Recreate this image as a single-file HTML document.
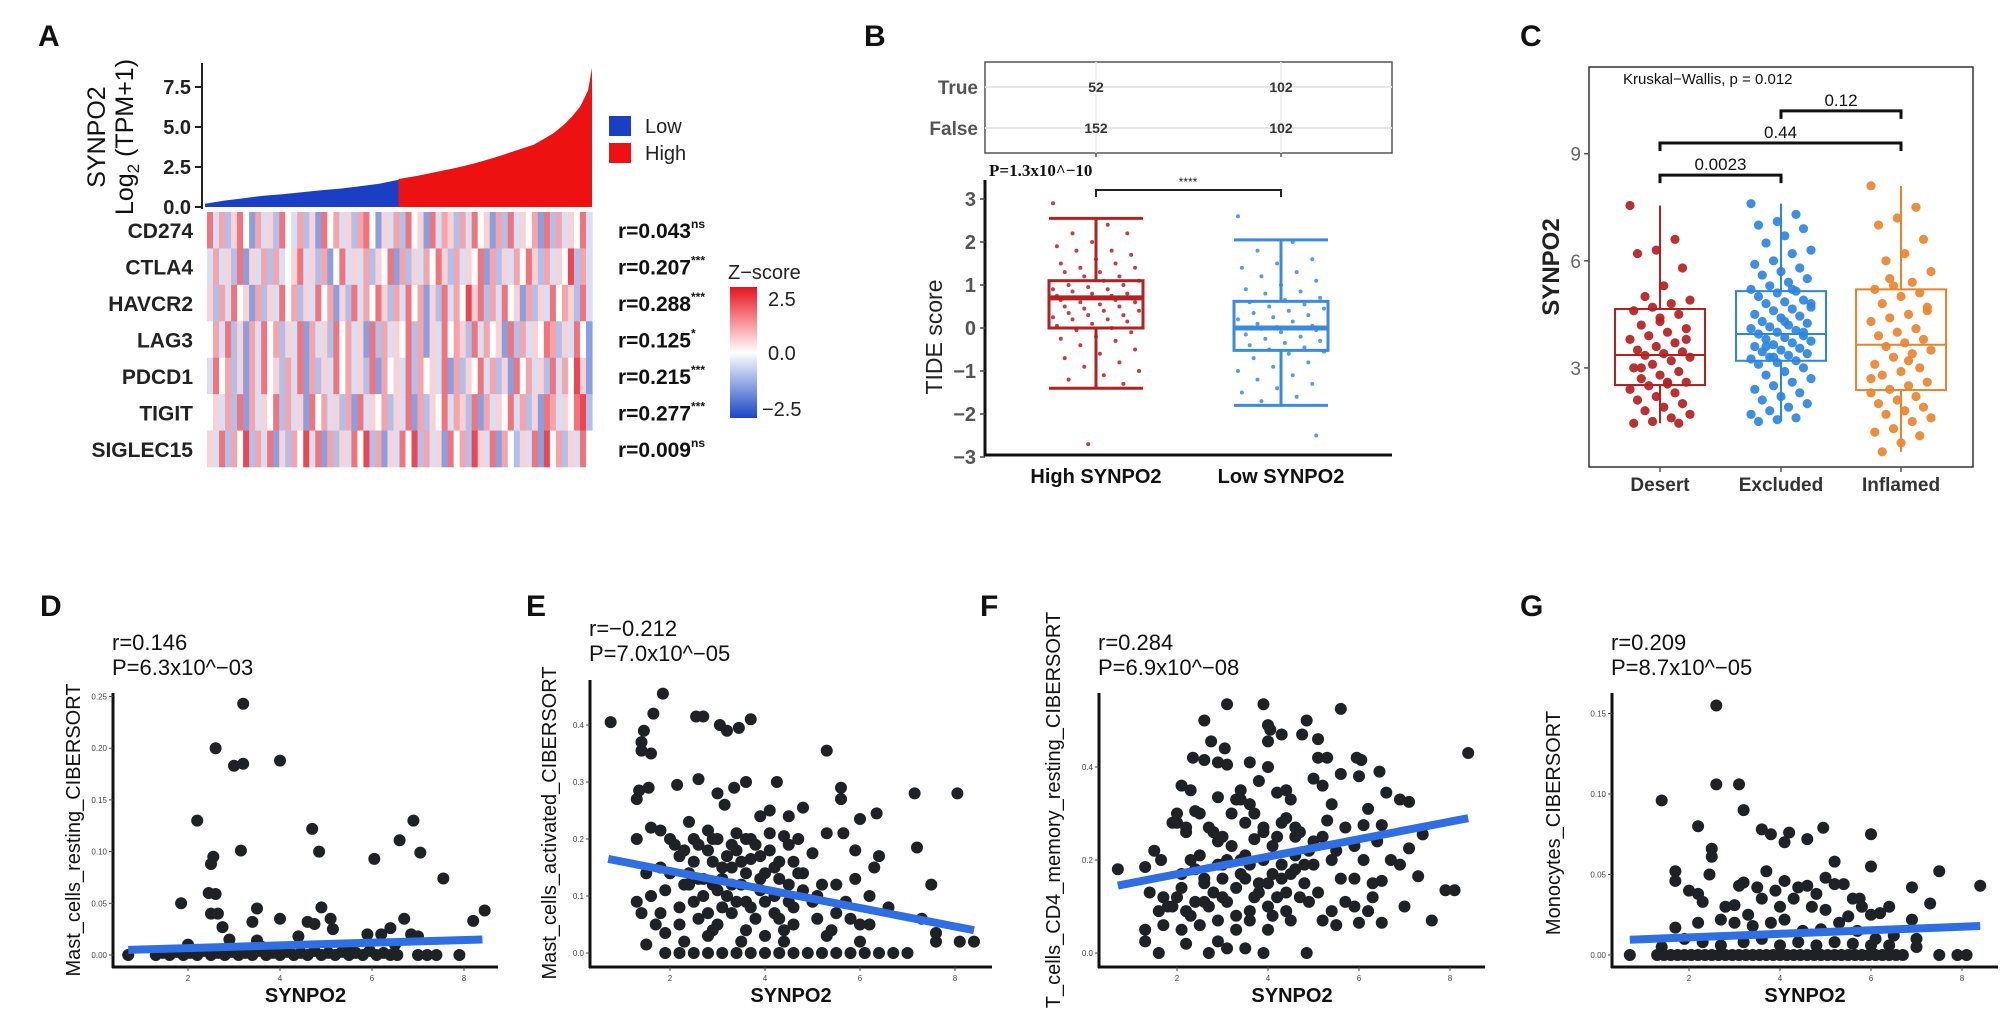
<!DOCTYPE html>
<html><head><meta charset="utf-8"><style>
html,body{margin:0;padding:0;background:#fff}
svg{display:block;font-family:"Liberation Sans",Arial,sans-serif}
</style></head><body>
<svg id="fig" width="2008" height="1035" viewBox="0 0 2008 1035" xmlns="http://www.w3.org/2000/svg">
<rect width="2008" height="1035" fill="#fff"/>
<g font-weight="bold" font-size="30" fill="#111">
<text x="38" y="46">A</text>
<text x="864" y="46">B</text>
<text x="1520" y="46">C</text>
<text x="40" y="616">D</text>
<text x="526" y="616">E</text>
<text x="980" y="616">F</text>
<text x="1520" y="616">G</text>
</g>
<g id="panelA">
<text transform="translate(105,137) rotate(-90)" text-anchor="middle" font-size="25" fill="#111">SYNPO2</text>
<text transform="translate(133,137) rotate(-90)" text-anchor="middle" font-size="25" fill="#111">Log<tspan font-size="17" dy="6">2</tspan><tspan dy="-6"> (TPM+1)</tspan></text>
<rect x="609" y="116" width="22" height="20" fill="#1a3fc4"/>
<rect x="609" y="143" width="22" height="20" fill="#ee1111"/>
<text x="645" y="133" font-size="20" fill="#222">Low</text>
<text x="645" y="160" font-size="20" fill="#222">High</text>
<text x="728" y="279" font-size="20" fill="#222">Z−score</text>
<defs><linearGradient id="zg" x1="0" y1="0" x2="0" y2="1">
<stop offset="0" stop-color="#e8141e"/><stop offset="0.5" stop-color="#ffffff"/><stop offset="1" stop-color="#1a46c8"/></linearGradient></defs>
<rect x="730" y="287" width="27" height="131" fill="url(#zg)"/>
<text x="768" y="306" font-size="20" fill="#222">2.5</text>
<text x="768" y="360" font-size="20" fill="#222">0.0</text>
<text x="762" y="416" font-size="20" fill="#222">−2.5</text>
</g>
<g>
<rect x="985" y="62" width="407" height="91" fill="#fff" stroke="#555" stroke-width="1.5"/>
<line x1="985" y1="87" x2="1392" y2="87" stroke="#e6e6e6" stroke-width="2"/>
<line x1="985" y1="128" x2="1392" y2="128" stroke="#e6e6e6" stroke-width="2"/>
<line x1="1096" y1="62" x2="1096" y2="153" stroke="#ececec" stroke-width="1.5"/>
<line x1="1281" y1="62" x2="1281" y2="153" stroke="#ececec" stroke-width="1.5"/>
<text x="978" y="94" text-anchor="end" font-size="19" font-weight="bold" fill="#555">True</text>
<text x="978" y="135" text-anchor="end" font-size="19" font-weight="bold" fill="#555">False</text>
<g font-size="14" font-weight="bold" fill="#333" text-anchor="middle">
<text x="1096" y="92">52</text>
<text x="1281" y="92">102</text>
<text x="1096" y="133">152</text>
<text x="1281" y="133">102</text>
</g>
<line x1="1096" y1="153" x2="1096" y2="157" stroke="#555" stroke-width="1.5"/>
<line x1="1281" y1="153" x2="1281" y2="157" stroke="#555" stroke-width="1.5"/>
<text x="989" y="176" font-family="Liberation Serif, serif" font-size="17" font-weight="bold" fill="#111">P=1.3x10^−10</text>
<text transform="translate(942,337) rotate(-90)" text-anchor="middle" font-size="23" fill="#222">TIDE score</text>
<text x="1096" y="483" text-anchor="middle" font-size="20" font-weight="bold" fill="#111">High SYNPO2</text>
<text x="1281" y="483" text-anchor="middle" font-size="20" font-weight="bold" fill="#111">Low SYNPO2</text>
<path d="M1096,197 V190 H1281 V197" fill="none" stroke="#222" stroke-width="2"/>
<text x="1188" y="186" text-anchor="middle" font-size="12" fill="#222">****</text>
</g>
<g>
<rect x="1589" y="67" width="384" height="400" fill="none" stroke="#333" stroke-width="1.5"/>
<text x="1623" y="84" font-size="15" fill="#111">Kruskal−Wallis, p = 0.012</text>
<text transform="translate(1559,267) rotate(-90)" text-anchor="middle" font-size="24" font-weight="bold" fill="#222">SYNPO2</text>
</g>
<g id="dyn"></g>
</svg>
<script>
// ---------- Panel A data ----------
const barQuantiles = [0,0.05,0.1,0.15,0.2,0.25,0.3,0.35,0.4,0.45,0.5,0.5001,0.55,0.6,0.65,0.7,0.75,0.8,0.85,0.9,0.93,0.95,0.97,0.98,0.99,1.0];
const barValues    = [0.2,0.4,0.55,0.7,0.8,0.92,1.05,1.15,1.3,1.45,1.7,1.75,1.95,2.2,2.45,2.75,3.1,3.5,3.9,4.6,5.2,5.7,6.3,6.8,7.3,8.7];
const barSplit = 0.5;
const yTicksA = [0,2.5,5,7.5];
const genes = ["CD274","CTLA4","HAVCR2","LAG3","PDCD1","TIGIT","SIGLEC15"];
const corrLabels = ["r=0.043","r=0.207","r=0.288","r=0.125","r=0.215","r=0.277","r=0.009"];
const corrStars = ["ns","***","***","*","***","***","ns"];
const heatRows = [
"7362574163527436251746352674153627451736526374516273546172635473",
"3635271536263457352614735362547162536475263547162536475263548263",
"5263745162537462537461527364752637461527364857263745162537465273",
"4637251637462537163527463517263547261537465273645172635476253741",
"3746251637452637162537463527164537264537162547362517463527364851",
"4536271635472635174635261735462537162547365271635473625176354782",
"5372648263715264837162537482615374826351746285371642537184625374"];
// ---------- Panel B data ----------
const tideHigh = [2.9,2.4,2.2,2.2,2.0,1.9,1.8,1.8,1.7,1.6,1.5,1.5,1.4,1.4,1.3,1.3,1.2,1.2,1.1,1.1,1.0,1.0,0.95,0.9,0.9,0.85,0.8,0.8,0.75,0.75,0.7,0.7,0.7,0.65,0.65,0.6,0.6,0.55,0.5,0.5,0.45,0.4,0.4,0.35,0.3,0.3,0.25,0.2,0.2,0.15,0.1,0.05,0.0,-0.05,-0.1,-0.2,-0.25,-0.3,-0.4,-0.5,-0.6,-0.7,-0.8,-0.9,-1.0,-1.1,-1.2,-1.3,-2.7];
const tideLow = [2.6,2.0,1.8,1.6,1.5,1.4,1.3,1.2,1.1,1.0,0.9,0.85,0.8,0.7,0.65,0.6,0.55,0.5,0.45,0.4,0.35,0.3,0.25,0.2,0.15,0.1,0.05,0.02,0.0,0.0,-0.02,-0.05,-0.1,-0.15,-0.2,-0.25,-0.3,-0.35,-0.4,-0.45,-0.5,-0.55,-0.6,-0.7,-0.8,-0.9,-1.0,-1.1,-1.2,-1.3,-1.4,-1.5,-1.6,-1.7,-2.5];
const tideBoxHigh = [-1.4,0.0,0.7,1.1,2.55];
const tideBoxLow  = [-1.8,-0.52,0.0,0.62,2.05];
const yTicksB = [-3,-2,-1,0,1,2,3];
// ---------- Panel C data ----------
const cGroups = ["Desert","Excluded","Inflamed"];
const cDesert = [7.55,6.6,6.3,6.2,5.8,5.3,5.0,4.9,4.8,4.7,4.6,4.5,4.3,4.2,4.1,4.0,3.9,3.8,3.7,3.6,3.5,3.45,3.4,3.35,3.3,3.2,3.1,3.0,2.9,2.8,2.7,2.6,2.55,2.5,2.4,2.3,2.2,2.1,2.0,1.9,1.8,1.7,1.6,1.5,1.45,1.45,4.4,3.0,3.8,2.6];
const cExcluded = [7.6,7.3,7.1,7.0,6.9,6.7,6.5,6.3,6.2,6.0,5.9,5.8,5.7,5.6,5.5,5.4,5.3,5.2,5.15,5.1,5.0,4.9,4.85,4.8,4.7,4.65,4.6,4.5,4.45,4.4,4.3,4.25,4.2,4.15,4.1,4.05,4.0,3.95,3.9,3.85,3.8,3.75,3.7,3.65,3.6,3.55,3.5,3.45,3.4,3.35,3.3,3.25,3.2,3.15,3.1,3.0,2.9,2.8,2.7,2.6,2.5,2.4,2.3,2.2,2.1,2.0,1.9,1.8,1.7,1.6,1.55,1.5,4.0,4.3,3.6,4.8,5.2,3.3];
const cInflamed = [8.1,7.5,7.2,7.0,6.6,6.2,6.0,5.7,5.4,5.3,5.2,5.1,5.0,4.8,4.6,4.5,4.4,4.3,4.1,4.0,3.9,3.8,3.7,3.6,3.5,3.4,3.3,3.1,3.0,2.9,2.8,2.6,2.5,2.4,2.3,2.2,2.1,2.0,1.9,1.8,1.7,1.6,1.5,1.3,1.2,1.1,0.9,0.65,4.7,3.2,5.5,2.7];
const cBoxDesert = [1.45,2.52,3.36,4.65,7.55];
const cBoxExcluded = [1.5,3.2,3.95,5.15,7.6];
const cBoxInflamed = [0.65,2.38,3.65,5.2,8.1];
const cBrackets = [["0.0023",0,1,8.4],["0.44",0,2,9.3],["0.12",1,2,10.2]];
const yTicksC = [3,6,9];
// ---------- Panels D-G data ----------
const dX = [3.2,2.6,3.0,3.2,4.0,2.2,2.5,2.55,3.15,4.7,4.85,6.9,6.6,7.05,6.05,7.55,1.85,2.45,2.6,2.5,2.65,3.5,4.9,8.45,8.2,6.7,2.75,3.4,4.0,4.6,5.1,5.15,4.75,6.4,6.2,5.9,2.9,3.5,4.4,6.85,7.0,2.0,3.6,5.5,6.5,0.7,7.0,7.2,7.4,7.9,1.3,1.45,1.6,1.75,1.9,2.05,2.2,2.35,2.5,2.65,2.8,2.95,3.1,3.25,3.4,3.55,3.7,3.85,4.0,4.15,4.3,4.45,4.6,4.75,4.9,5.05,5.2,5.35,5.5,5.65,5.8,5.95,6.1,6.25,6.4,6.55];
const dY = [0.243,0.2,0.183,0.185,0.188,0.13,0.088,0.095,0.101,0.122,0.1,0.13,0.111,0.099,0.093,0.074,0.05,0.06,0.059,0.04,0.04,0.045,0.046,0.043,0.033,0.035,0.027,0.032,0.035,0.032,0.035,0.025,0.03,0.026,0.02,0.02,0.015,0.014,0.018,0.02,0.018,0.01,0.008,0.008,0.01,0,0,0,0,0,0,0.002,0,0.003,0,0.002,0,0.004,0,0.002,0,0.003,0,0.002,0,0.004,0,0.002,0,0.003,0,0.002,0,0.004,0,0.002,0,0.003,0,0.002,0,0.004,0,0.002,0,0];
const dReg = [[0.7,0.005],[8.4,0.015]];
const eX = [0.75,1.85,1.65,1.45,1.4,1.4,1.6,2.55,2.7,3.05,3.2,3.45,3.7,5.3,1.3,1.35,1.55,2.15,2.6,3.0,3.15,3.35,3.6,4.25,5.6,7.15,8.05,1.6,1.8,2.4,2.8,3.4,3.9,4.1,4.5,4.8,5.6,6.0,6.35,1.3,2.0,2.5,3.0,3.6,4.4,5.3,5.65,7.2,1.5,1.8,2.2,2.5,2.8,3.2,3.7,4.1,4.6,5.0,5.9,6.3,6.4,1.3,1.6,1.9,2.3,2.7,3.1,3.5,3.9,4.3,4.8,5.2,5.5,5.9,6.2,7.5,1.4,1.8,2.2,2.6,3.0,3.3,3.8,4.2,4.6,5.1,5.5,6.0,6.6,7.3,1.5,1.9,2.3,2.8,3.5,4.0,4.4,5.3,6.0,7.6,7.6,8.1,8.4,1.9,2.2,2.5,2.8,3.1,3.4,3.7,4.0,4.3,4.6,4.9,5.2,5.5,5.8,6.1,6.4,6.7,7.0,2.4,2.9,3.3,3.6,4.0,4.5,3.2,2.6,4.2,3.4,2.9,3.8,4.7,5.0,5.7,
  2.1,2.3,2.6,2.9,3.1,3.3,3.5,3.7,3.9,4.1,4.3,4.5,4.7,2.0,2.4,2.7,3.0,3.3,3.6,3.9,4.2,4.5,4.8,5.1,2.2,2.5,2.8,3.1,3.4,3.7,4.0,4.3,4.6,5.4,5.8,6.2,1.7,2.9,3.6,4.4];
const eY = [0.405,0.455,0.42,0.39,0.37,0.355,0.35,0.415,0.415,0.4,0.39,0.395,0.41,0.355,0.27,0.285,0.29,0.295,0.305,0.28,0.26,0.29,0.3,0.3,0.29,0.28,0.28,0.22,0.215,0.23,0.215,0.21,0.24,0.25,0.24,0.255,0.27,0.235,0.245,0.2,0.2,0.2,0.2,0.2,0.205,0.21,0.21,0.185,0.14,0.15,0.17,0.16,0.18,0.17,0.165,0.18,0.16,0.175,0.18,0.15,0.17,0.09,0.1,0.11,0.12,0.1,0.13,0.12,0.11,0.13,0.11,0.12,0.12,0.13,0.1,0.12,0.07,0.07,0.05,0.06,0.05,0.07,0.06,0.07,0.05,0.06,0.07,0.05,0.08,0.06,0.015,0.035,0.02,0.03,0.02,0.03,0.02,0.03,0.02,0.035,0.02,0.02,0.02,0,0,0,0,0,0,0,0,0,0,0,0,0,0,0,0,0,0,0.14,0.12,0.15,0.09,0.14,0.09,0.1,0.13,0.1,0.18,0.16,0.19,0.14,0.09,0.09,
  0.19,0.18,0.19,0.2,0.15,0.19,0.16,0.2,0.17,0.21,0.16,0.19,0.2,0.14,0.12,0.13,0.11,0.12,0.14,0.13,0.15,0.12,0.14,0.1,0.08,0.09,0.07,0.08,0.09,0.08,0.09,0.06,0.08,0.04,0.06,0.05,0.05,0.04,0.04,0.04];
const eReg = [[0.7,0.165],[8.4,0.04]];
const fX = [0.7,3.1,3.9,5.6,2.6,4.0,4.05,4.3,4.85,4.75,5.1,2.75,4.0,3.05,2.35,2.6,2.9,3.1,3.6,4.0,5.1,5.3,5.95,6.05,8.4,2.1,2.3,3.4,3.8,4.2,4.4,5.0,5.2,5.6,6.0,6.45,2.0,2.4,2.9,3.3,3.6,4.5,5.4,6.2,6.9,7.1,6.6,1.9,2.2,2.8,3.5,3.9,4.3,4.7,5.3,5.7,6.1,6.5,7.4,1.5,1.65,2.5,2.9,3.2,3.7,4.1,4.6,5.0,5.5,5.9,6.4,7.1,1.3,2.3,3.0,3.4,3.9,4.3,4.8,5.4,6.1,6.9,1.4,1.7,2.1,2.6,3.0,3.5,4.0,4.5,5.1,5.6,5.9,6.3,6.5,7.3,7.9,8.1,1.6,1.9,2.3,2.7,3.1,3.6,4.0,4.4,4.9,5.4,5.9,6.2,7.0,1.3,1.7,2.1,2.5,2.9,3.3,3.6,4.0,4.5,5.5,6.0,6.5,7.6,1.3,1.6,2.2,2.7,2.9,3.1,3.5,3.9,4.85,2.0,2.4,3.3,3.8,4.2,2.8,3.5,4.6,
  2.0,2.2,2.5,2.7,3.0,3.2,3.4,3.7,3.9,4.2,4.4,4.6,4.9,5.2,2.1,2.4,2.6,2.9,3.1,3.4,3.6,3.8,4.1,4.3,4.6,4.8,5.0,1.8,2.2,2.6,3.0,3.3,3.7,4.1,4.4,4.7,5.2,5.7,6.3,6.7];
const fY = [0.18,0.535,0.535,0.525,0.5,0.49,0.48,0.47,0.5,0.47,0.46,0.455,0.455,0.44,0.42,0.415,0.41,0.405,0.41,0.4,0.42,0.42,0.42,0.415,0.43,0.36,0.35,0.35,0.37,0.345,0.35,0.375,0.36,0.385,0.38,0.39,0.3,0.305,0.335,0.33,0.32,0.33,0.32,0.31,0.33,0.325,0.345,0.28,0.27,0.26,0.28,0.27,0.28,0.26,0.285,0.27,0.275,0.275,0.255,0.22,0.2,0.21,0.24,0.23,0.245,0.23,0.25,0.24,0.22,0.23,0.24,0.225,0.185,0.2,0.19,0.2,0.2,0.19,0.19,0.2,0.2,0.19,0.13,0.12,0.14,0.15,0.16,0.16,0.15,0.17,0.13,0.16,0.16,0.15,0.155,0.165,0.135,0.135,0.09,0.1,0.08,0.1,0.11,0.09,0.1,0.09,0.11,0.09,0.1,0.09,0.1,0.05,0.06,0.05,0.06,0.07,0.05,0.07,0.05,0.07,0.06,0.065,0.065,0.07,0.025,0.0,0.02,0.0,0.025,0.01,0.01,0.0,0.0,0.12,0.11,0.14,0.13,0.12,0.13,0.21,0.21,
  0.28,0.26,0.3,0.27,0.25,0.3,0.33,0.3,0.26,0.25,0.29,0.27,0.22,0.25,0.17,0.18,0.16,0.19,0.2,0.17,0.19,0.15,0.17,0.16,0.18,0.15,0.19,0.1,0.09,0.11,0.12,0.08,0.12,0.08,0.13,0.12,0.07,0.11,0.12,0.2];
const fReg = [[0.7,0.145],[8.4,0.29]];
const gX = [0.7,2.6,2.6,3.1,1.4,3.2,2.2,3.6,3.8,4.2,4.1,4.6,4.95,6.0,2.5,2.5,5.2,6.0,1.7,3.7,7.5,2.45,1.7,2.0,2.2,2.3,3.1,3.2,3.5,3.9,4.1,4.4,4.6,4.8,5.0,5.2,5.4,5.6,5.8,6.4,5.75,6.9,7.3,8.4,2.8,3.0,3.3,3.6,4.0,4.3,4.7,5.0,5.5,6.0,6.2,1.7,2.2,2.7,3.0,3.4,3.8,4.1,4.5,4.9,5.3,5.7,6.1,6.5,6.9,7.0,7.0,1.4,1.9,2.3,2.7,3.2,3.6,4.0,4.4,4.8,5.2,5.6,6.0,6.4,7.5,7.9,8.1,1.3,1.45,1.6,1.75,1.9,2.05,2.2,2.35,2.5,2.65,2.8,2.95,3.1,3.25,3.4,3.55,3.7,3.85,4.0,4.15,4.3,4.45,4.6,4.75,4.9,5.05,5.2,5.35,5.5,5.65,5.8,5.95,6.1,6.25,6.4,6.55,6.7];
const gY = [0,0.155,0.106,0.106,0.096,0.09,0.08,0.078,0.075,0.076,0.07,0.072,0.079,0.075,0.066,0.061,0.058,0.055,0.052,0.052,0.052,0.05,0.046,0.04,0.038,0.033,0.043,0.045,0.042,0.04,0.046,0.042,0.043,0.038,0.048,0.044,0.044,0.035,0.03,0.03,0.035,0.042,0.032,0.043,0.03,0.031,0.025,0.035,0.03,0.035,0.03,0.028,0.024,0.025,0.026,0.017,0.02,0.022,0.02,0.018,0.02,0.022,0.015,0.016,0.02,0.015,0.01,0.012,0.022,0.01,0.005,0.005,0.01,0.008,0.006,0.008,0.01,0.006,0.008,0.006,0.008,0.007,0.006,0.006,0,0,0,0,0,0,0,0,0,0,0,0,0,0,0,0,0,0,0,0,0,0,0,0,0,0,0,0,0,0,0,0,0,0,0,0,0,0,0,0,0,0];
const gReg = [[0.7,0.0095],[8.4,0.018]];
const scatterXTicks = [2,4,6,8];
const dYTicks = [0,0.05,0.1,0.15,0.2,0.25];
const eYTicks = [0,0.1,0.2,0.3,0.4];
const fYTicks = [0,0.2,0.4];
const gYTicks = [0,0.05,0.1,0.15];

const NS = "http://www.w3.org/2000/svg";
const root = document.getElementById('dyn');
function el(tag, attrs, parent){
  const e = document.createElementNS(NS, tag);
  for (const k in attrs) e.setAttribute(k, attrs[k]);
  (parent||root).appendChild(e);
  return e;
}

// ---------- Panel A ----------
(function(){
  const x0=205, x1=592, yBase=207, ppu=16;
  const X = q => x0 + q*(x1-x0);
  const Y = v => yBase - v*ppu;
  let lowPts=[`${X(0)},${yBase}`], highPts=[];
  barQuantiles.forEach((q,i)=>{ if(q<=barSplit) lowPts.push(`${X(q)},${Y(barValues[i])}`); });
  lowPts.push(`${X(barSplit)},${yBase}`);
  highPts.push(`${X(barSplit)},${yBase}`);
  barQuantiles.forEach((q,i)=>{ if(q>barSplit) highPts.push(`${X(q)},${Y(barValues[i])}`); });
  highPts.push(`${X(1)},${yBase}`);
  const pl = el('polygon',{points:lowPts.join(' '),fill:'#1a3fc4'});
  
  
  const ph = el('polygon',{points:highPts.join(' '),fill:'#ee1111'});
  
  
  const ax = el('line',{x1:202,y1:Y(9),x2:202,y2:yBase+2,stroke:'#222','stroke-width':2});
  
  
  yTicksA.forEach(t=>{
    const tk = el('line',{x1:195,y1:Y(t),x2:202,y2:Y(t),stroke:'#222','stroke-width':2});
    
    
    const tl = el('text',{x:191,y:Y(t)+7,'text-anchor':'end','font-size':20,'font-weight':'bold',fill:'#222'});
    tl.textContent = t.toFixed(1);
    
    
  });
  const hx0=207, hx1=592, hy0=212, hy1=467;
  const rh=(hy1-hy0)/heatRows.length;
  function zcol(d){
    const z=(d-4)/4;
    const w=[255,255,255], r=[236,70,82], b=[96,128,214];
    const c = z>=0? r : b; const a=Math.min(1,Math.abs(z));
    return `rgb(${Math.round(w[0]+(c[0]-w[0])*a)},${Math.round(w[1]+(c[1]-w[1])*a)},${Math.round(w[2]+(c[2]-w[2])*a)})`;
  }
  heatRows.forEach((row,ri)=>{
    const cw=(hx1-hx0)/row.length;
    for(let ci=0;ci<row.length;ci++){
      const r = el('rect',{x:hx0+ci*cw,y:hy0+ri*rh,width:cw+0.6,height:rh+0.3,fill:zcol(+row[ci])});
      
      
    }
    const gl = el('text',{x:193,y:hy0+ri*rh+rh/2+8,'text-anchor':'end','font-size':21,'font-weight':'bold',fill:'#222'});
    gl.textContent = genes[ri];
    
    
    const cl = el('text',{x:618,y:hy0+ri*rh+rh/2+8,'font-size':21,'font-weight':'bold',fill:'#111'});
    cl.textContent = corrLabels[ri];
    
    
    const st = el('tspan',{'font-size':12,dy:-10});
    st.textContent = corrStars[ri];
    cl.appendChild(st);
  });
})();

// ---------- Panel B ----------
(function(){
  const yZero=328, ppu=43;
  const Y=v=>yZero-v*ppu;
  const ax = el('line',{x1:985,y1:180,x2:985,y2:456,stroke:'#111','stroke-width':3});
  
  
  const bx = el('line',{x1:984,y1:455,x2:1392,y2:455,stroke:'#111','stroke-width':3});
  
  
  yTicksB.forEach(t=>{
    const tk = el('line',{x1:980,y1:Y(t),x2:985,y2:Y(t),stroke:'#444','stroke-width':1.5});
    
    
    const tl = el('text',{x:976,y:Y(t)+7,'text-anchor':'end','font-size':20,'font-weight':'bold',fill:'#555'});
    tl.textContent = t<0? '−'+Math.abs(t) : String(t);
    
    
  });
  function group(vals, box, cx, color, nm){
    const hw=47;
    const g = el('g',{stroke:color,'stroke-width':3,fill:'none'});
    
    
    el('line',{x1:cx,y1:Y(box[0]),x2:cx,y2:Y(box[4])},g);
    el('line',{x1:cx-hw,y1:Y(box[0]),x2:cx+hw,y2:Y(box[0])},g);
    el('line',{x1:cx-hw,y1:Y(box[4]),x2:cx+hw,y2:Y(box[4])},g);
    el('rect',{x:cx-hw,y:Y(box[3]),width:2*hw,height:Y(box[1])-Y(box[3]),fill:'#fff'},g);
    el('line',{x1:cx-hw,y1:Y(box[2]),x2:cx+hw,y2:Y(box[2]),'stroke-width':5},g);
    vals.forEach((v,i)=>{
      const off=(((i*37)%23)-11)/11*(hw-4);
      const p = el('circle',{cx:cx+off,cy:Y(v),r:2,fill:color,'fill-opacity':0.85});
      
      
    });
  }
  group(tideHigh, tideBoxHigh, 1096, '#b52020', 'high-synpo2');
  group(tideLow, tideBoxLow, 1281, '#3a8be0', 'low-synpo2');
})();

// ---------- Panel C ----------
(function(){
  const yZero=475, ppu=35.7;
  const Y=v=>yZero-v*ppu;
  const centers=[1660,1781,1901];
  const colors=['#b51f1f','#2b86e0','#ea842c'];
  const vals=[cDesert,cExcluded,cInflamed];
  const boxes=[cBoxDesert,cBoxExcluded,cBoxInflamed];
  yTicksC.forEach(t=>{
    const tk = el('line',{x1:1584,y1:Y(t),x2:1589,y2:Y(t),stroke:'#555','stroke-width':1.5});
    
    
    const tl = el('text',{x:1581,y:Y(t)+7,'text-anchor':'end','font-size':19,fill:'#666'});
    tl.textContent=String(t);
    
    
  });
  cGroups.forEach((gname,gi)=>{
    const cx=centers[gi], hw=45, box=boxes[gi], col=colors[gi];
    const g = el('g',{stroke:col,'stroke-width':2,fill:'none'});
    
    
    el('line',{x1:cx,y1:Y(box[0]),x2:cx,y2:Y(box[4])},g);
    el('rect',{x:cx-hw,y:Y(box[3]),width:2*hw,height:Y(box[1])-Y(box[3]),fill:'#fff'},g);
    el('line',{x1:cx-hw,y1:Y(box[2]),x2:cx+hw,y2:Y(box[2])},g);
    vals[gi].forEach((v,i)=>{
      const off=(((i*29)%17)-8)/8*30;
      const p = el('circle',{cx:cx+off,cy:Y(v),r:4.6,fill:col,'fill-opacity':0.92});
      
      
    });
    const tk = el('line',{x1:cx,y1:467,x2:cx,y2:472,stroke:'#555','stroke-width':1.5});
    
    
    const tl = el('text',{x:cx,y:491,'text-anchor':'middle','font-size':19,'font-weight':'bold',fill:'#333'});
    tl.textContent=gname;
    
    
  });
  cBrackets.forEach(b=>{
    const y=Y(b[3]);
    const p = el('path',{d:`M${centers[b[1]]},${y+8} V${y} H${centers[b[2]]} V${y+8}`,fill:'none',stroke:'#111','stroke-width':3});
    
    
    const t = el('text',{x:(centers[b[1]]+centers[b[2]])/2,y:y-5,'text-anchor':'middle','font-size':17,fill:'#111'});
    t.textContent=b[0];
    
    
  });
})();

// ---------- Scatter panels ----------
function scatter(cfg){
  const X=v=>cfg.x0+v*cfg.px;
  const Y=v=>cfg.y0-v*cfg.py;
  const ax = el('line',{x1:cfg.ax,y1:cfg.top,x2:cfg.ax,y2:968,stroke:'#111','stroke-width':3});
  
  
  const bx = el('line',{x1:cfg.ax-1,y1:967,x2:cfg.right,y2:967,stroke:'#111','stroke-width':3});
  
  
  cfg.yt.forEach(t=>{
    const tk = el('line',{x1:cfg.ax-4,y1:Y(t),x2:cfg.ax,y2:Y(t),stroke:'#444','stroke-width':1});
    
    
    const tl = el('text',{x:cfg.ax-6,y:Y(t)+3,'text-anchor':'end','font-size':8,fill:'#444'});
    tl.textContent=t.toFixed(cfg.dec);
    
    
  });
  scatterXTicks.forEach(t=>{
    const tk = el('line',{x1:X(t),y1:967,x2:X(t),y2:971,stroke:'#444','stroke-width':1});
    
    
    const tl = el('text',{x:X(t),y:981,'text-anchor':'middle','font-size':8,fill:'#444'});
    tl.textContent=String(t);
    
    
  });
  const n=Math.min(cfg.xs.length,cfg.ys.length);
  for(let i=0;i<n;i++){
    const p = el('circle',{cx:X(cfg.xs[i]),cy:Y(cfg.ys[i]),r:6,fill:'#1e2126'});
    
    
  }
  const rl = el('line',{x1:X(cfg.reg[0][0]),y1:Y(cfg.reg[0][1]),x2:X(cfg.reg[1][0]),y2:Y(cfg.reg[1][1]),stroke:'#2f6fe3','stroke-width':8,'stroke-linecap':'butt'});
  
  
  const r1 = el('text',{x:cfg.ax-1,y:cfg.ty,'font-size':22,fill:'#111'});
  r1.textContent=cfg.r;
  
  
  const r2 = el('text',{x:cfg.ax-1,y:cfg.ty+25,'font-size':22,fill:'#111'});
  r2.textContent=cfg.p;
  
  
  const yt = el('text',{transform:`translate(${cfg.tx},${cfg.tcy}) rotate(-90)`,'text-anchor':'middle','font-size':20,fill:'#111'});
  yt.textContent=cfg.title;
  
  
  const xt = el('text',{x:(cfg.ax+cfg.right)/2,y:1002,'text-anchor':'middle','font-size':20,'font-weight':'bold',fill:'#111'});
  xt.textContent='SYNPO2';
  
  
}
scatter({id:'d',xs:dX,ys:dY,reg:dReg,yt:dYTicks,dec:2,x0:96,px:46,y0:955,py:1034,ax:113,top:693,right:498,ty:650,r:'r=0.146',p:'P=6.3x10^−03',title:'Mast_cells_resting_CIBERSORT',tx:80,tcy:830});
scatter({id:'e',xs:eX,ys:eY,reg:eReg,yt:eYTicks,dec:1,x0:575,px:47.5,y0:953,py:570,ax:590,top:680,right:992,ty:636,r:'r=−0.212',p:'P=7.0x10^−05',title:'Mast_cells_activated_CIBERSORT',tx:556,tcy:823});
scatter({id:'f',xs:fX,ys:fY,reg:fReg,yt:fYTicks,dec:1,x0:1086,px:45.5,y0:953,py:465,ax:1099,top:693,right:1485,ty:650,r:'r=0.284',p:'P=6.9x10^−08',title:'T_cells_CD4_memory_resting_CIBERSORT',tx:1060,tcy:810});
scatter({id:'g',xs:gX,ys:gY,reg:gReg,yt:gYTicks,dec:2,x0:1598,px:45.5,y0:955,py:1610,ax:1612,top:693,right:1998,ty:650,r:'r=0.209',p:'P=8.7x10^−05',title:'Monocytes_CIBERSORT',tx:1560,tcy:823});
</script>
</body></html>
